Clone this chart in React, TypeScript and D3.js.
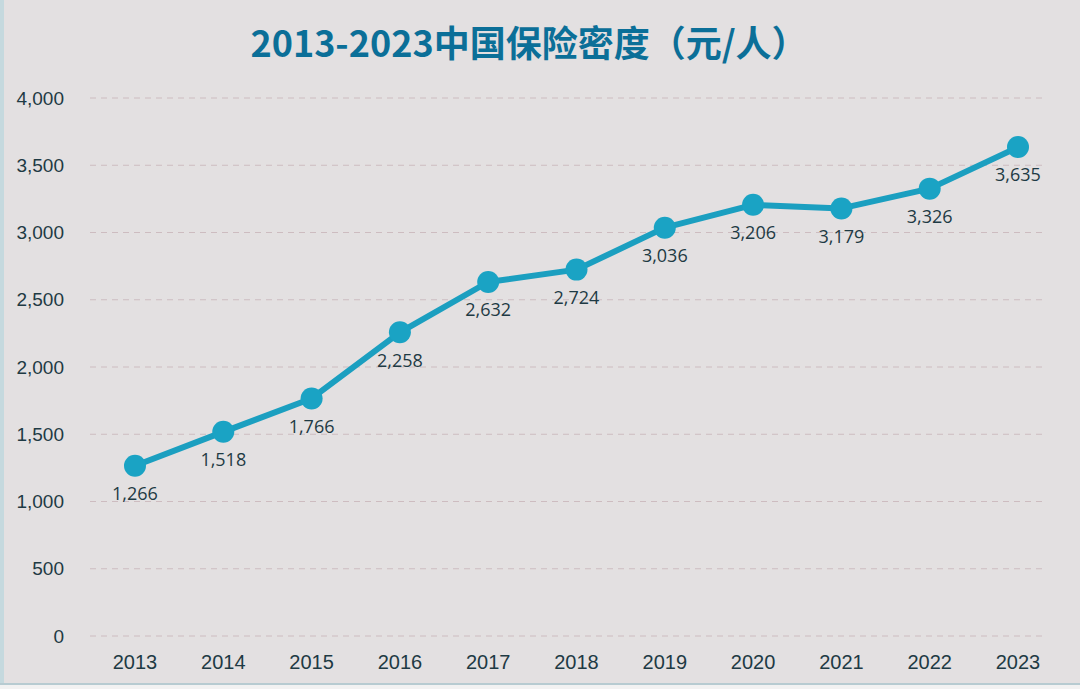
import React from "react";
import * as d3 from "d3";

const years = ["2013","2014","2015","2016","2017","2018","2019","2020","2021","2022","2023"];
const density = [1266, 1518, 1766, 2258, 2632, 2724, 3036, 3206, 3179, 3326, 3635];
const yTicks = [0, 500, 1000, 1500, 2000, 2500, 3000, 3500, 4000];
const title = "2013-2023中国保险密度（元/人）";

const W = 1080, H = 689;

export default function App() {
  const x = d3.scalePoint<string>().domain(years).range([135, 1018]);
  const y = d3.scaleLinear().domain([0, 4000]).range([636, 98]);
  const line = d3.line<number>().x((_, i) => x(years[i])!).y(d => y(d));
  const fmt = d3.format(",");
  const axisFont = "'Liberation Sans', Arial, sans-serif";
  const labelFont = "'Open Sans', 'Noto Sans', sans-serif";
  return (
    <svg width={W} height={H} style={{ position: "absolute", left: 0, top: 0, display: "block" }}>
      <rect x={0} y={0} width={W} height={H} fill="#e3e0e1" />
      <rect x={0} y={0} width={4} height={H} fill="#c5d9de" />
      <rect x={0} y={684} width={W} height={5} fill="#f2f2f2" />
      <line x1={0} x2={W} y1={684} y2={684} stroke="#b7cbd1" strokeWidth={2} />
      <text x={529} y={57} textAnchor="middle" fontFamily="'Noto Sans CJK SC', 'Open Sans', sans-serif"
        fontWeight={700} fontSize={36} fill="#0b6f98">{title}</text>
      {yTicks.map(t => (
        <g key={t}>
          <line x1={90} x2={1042} y1={y(t)} y2={y(t)} stroke="#cdbcc0" strokeDasharray="6,5" strokeWidth={1} />
          <text x={64} y={y(t)} dy="0.35em" textAnchor="end" fontFamily={axisFont} fontSize={19} fill="#1e3a44">{fmt(t)}</text>
        </g>
      ))}
      {years.map(yr => (
        <text key={yr} x={x(yr)} y={662} dy="0.35em" textAnchor="middle" fontFamily={axisFont} fontSize={20} fill="#1e3a44">{yr}</text>
      ))}
      <path d={line(density) || ""} fill="none" stroke="#1b9fc0" strokeWidth={6} strokeLinejoin="round" />
      {density.map((v, i) => (
        <circle key={i} cx={x(years[i])} cy={y(v)} r={11} fill="#1aa3c4" />
      ))}
      {density.map((v, i) => (
        <text key={"l" + i} x={x(years[i])!} y={y(v) + 28} dy="0.35em" textAnchor="middle"
          fontFamily={labelFont} fontSize={18} fill="#1e3a44">{fmt(v)}</text>
      ))}
    </svg>
  );
}
